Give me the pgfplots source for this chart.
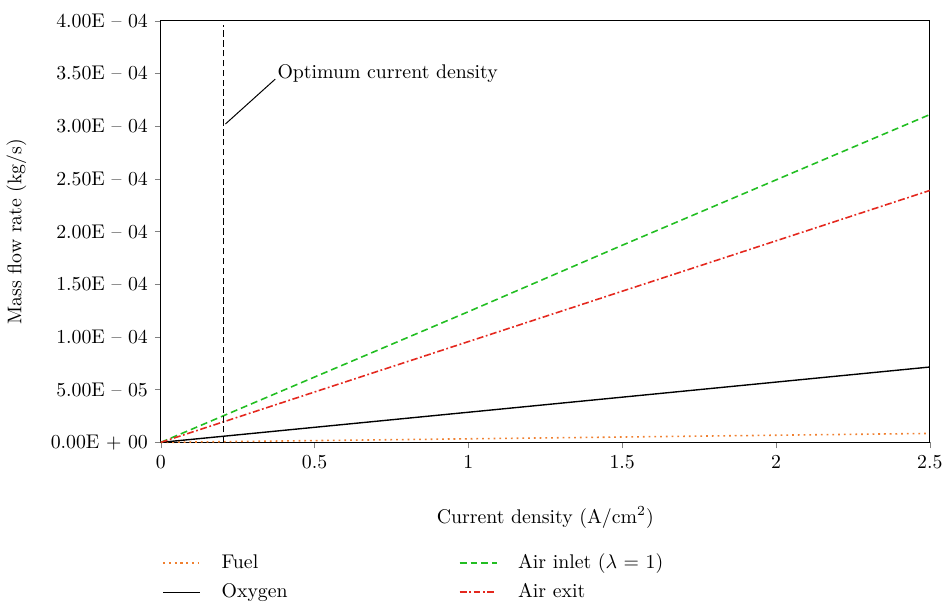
\documentclass[border=0pt]{standalone}
\usepackage{pgfplots}
\pgfplotsset{compat=1.18}
\definecolor{fuelc}{RGB}{240,128,48}
\definecolor{inletc}{RGB}{34,190,34}
\definecolor{exitc}{RGB}{228,40,30}
\begin{document}
\begin{tikzpicture}
\begin{axis}[
  scale only axis,
  width=388.5pt, height=213pt,
  xmin=0, xmax=2.5, ymin=0, ymax=4e-4,
  xtick={0,0.5,1,1.5,2,2.5},
  xticklabels={0,0.5,1,1.5,2,2.5},
  ytick={0,5e-5,1e-4,1.5e-4,2e-4,2.5e-4,3e-4,3.5e-4,4e-4},
  yticklabels={{0.00E + 00},{5.00E -- 05},{1.00E -- 04},{1.50E -- 04},{2.00E -- 04},{2.50E -- 04},{3.00E -- 04},{3.50E -- 04},{4.00E -- 04}},
  scaled y ticks=false,
  tick align=outside, tick pos=left,
  major tick length=3pt,
  xlabel={Current density (A/cm$^2$)},
  ylabel={Mass flow rate (kg/s)},
  xlabel style={at={(axis description cs:0.5,-0.178)}, anchor=center},
  ylabel style={at={(axis description cs:-0.1876,0.5)}, anchor=center},
  legend style={draw=none, at={(axis description cs:-0.006,-0.245)}, anchor=north west,
    legend columns=2, transpose legend, row sep=2pt,
    /tikz/every odd column/.append style={column sep=8.5pt},
    /tikz/every even column/.append style={column sep=84.5pt}},
  legend cell align=left,
  legend image post style={xscale=1.09},
  clip=false,
]
\addplot[fuelc, line width=0.8pt, dash pattern=on 0.9pt off 2pt] coordinates {(0,0) (0.5,0.17e-5) (1,0.34e-5) (1.5,0.51e-5) (2,0.68e-5) (2.5,0.85e-5)};
\addlegendentry{Fuel}
\addplot[black, line width=0.7pt] coordinates {(0,0) (0.5,1.43e-5) (1,2.86e-5) (1.5,4.29e-5) (2,5.72e-5) (2.5,7.15e-5)};
\addlegendentry{Oxygen}
\addplot[inletc, line width=0.8pt, dash pattern=on 3.5pt off 2pt] coordinates {(0,0) (0.5,0.62e-4) (1,1.24e-4) (1.5,1.87e-4) (2,2.49e-4) (2.5,3.11e-4)};
\addlegendentry{Air inlet ($\lambda$ = 1)}
\addplot[exitc, line width=0.8pt, dash pattern=on 3.5pt off 1.3pt on 0.9pt off 1.3pt] coordinates {(0,0) (0.5,0.478e-4) (1,0.956e-4) (1.5,1.434e-4) (2,1.912e-4) (2.5,2.39e-4)};
\addlegendentry{Air exit}
\addplot[black, line width=0.5pt, dash pattern=on 3.3pt off 1.7pt, forget plot] coordinates {(0.205,0) (0.205,3.96e-4)};
\addplot[black, line width=0.5pt, forget plot] coordinates {(0.21,3.02e-4) (0.372,3.446e-4)};
\node[anchor=west, inner sep=1pt] at (axis cs:0.372,3.5e-4) {Optimum current density};
\path (axis description cs:0,1) ++(0,10.5pt) coordinate (bbtop);
\path (bbtop) -- (bbtop);
\end{axis}
\end{tikzpicture}
\end{document}
